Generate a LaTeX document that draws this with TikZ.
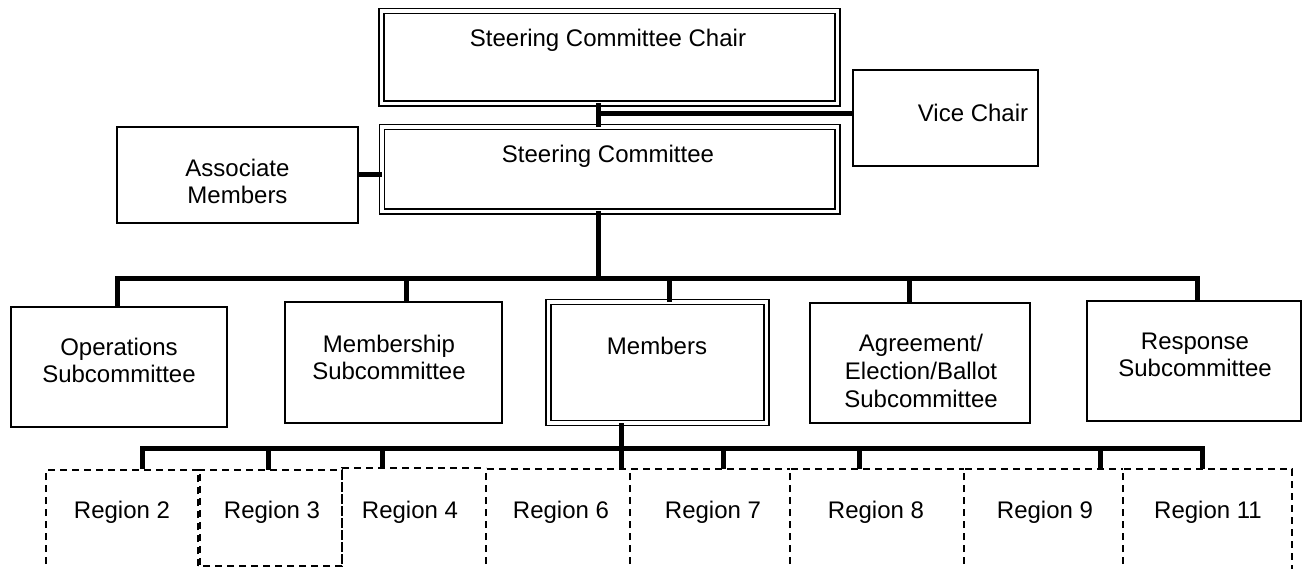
\documentclass[tikz,border=0pt]{standalone}
\usepackage{fontspec}
\setmainfont{Liberation Sans}
\begin{document}
\begin{tikzpicture}[x=1pt,y=-1pt,
  box/.style={draw=black, line width=1.3pt, fill=white, inner sep=0pt, outer sep=0pt},
  dbox/.style={draw=black, line width=1.3pt, double=white, double distance=3.7pt, inner sep=0pt, outer sep=0pt},
  rbox/.style={draw=black, line width=1.2pt, dash pattern=on 7pt off 5pt},
  conn/.style={draw=black, line width=5pt},
  txt/.style={font=\fontsize{24}{27.5}\selectfont, align=center, inner sep=0pt, anchor=base}
]
\useasboundingbox (0,0) rectangle (1302,569);
\clip (0,0) rectangle (1302,569);

% top of the chart
\node[dbox, minimum width=456pt, minimum height=92.5pt] (chair) at (609.5,57.25) {};
\node[dbox, minimum width=455.5pt, minimum height=84.5pt] (sc) at (609.75,169.25) {};
\node[box, minimum width=241pt, minimum height=96pt] (assoc) at (237.5,175) {};
\node[box, minimum width=185pt, minimum height=96pt] (vice) at (945.5,118) {};

% multi-line labels sit on the baseline of their last line
\node[txt] (tchair) at (608,47) {Steering Committee Chair};
\node[txt] (tsc) at (608,163) {Steering Committee};
\node[txt] (tassoc) at (237.5,204) {Associate\\Members};
\node[txt] (tvice) at (973,122) {Vice Chair};

% subcommittees
\node[box, minimum width=216pt, minimum height=120pt] (ops) at (119,367) {};
\node[box, minimum width=217pt, minimum height=121pt] (msub) at (393.5,362.5) {};
\node[dbox, minimum width=218pt, minimum height=121pt] (members) at (657.5,362.5) {};
\node[box, minimum width=220pt, minimum height=120pt] (agree) at (920,363) {};
\node[box, minimum width=214pt, minimum height=120pt] (resp) at (1194,361) {};

\node[txt] (tops) at (119,383) {Operations\\Subcommittee};
\node[txt] (tmsub) at (389,380) {Membership\\Subcommittee};
\node[txt] (tmembers) at (657,355) {Members};
\node[txt] (tagree) at (921,407) {Agreement/\\Election/Ballot\\Subcommittee};
\node[txt] (tresp) at (1195,377) {Response\\Subcommittee};

% regions (open at the bottom edge, except Region 3)
\draw[rbox] (46,600) -- (46,470) -- (200,470) -- (200,600);
\draw[rbox] (198,566) rectangle (342,470);
\draw[rbox] (342,600) -- (342,468) -- (486,468);
\draw[rbox] (486,600) -- (486,469) -- (630,469);
\draw[rbox] (630,600) -- (630,469) -- (790,469);
\draw[rbox] (790,600) -- (790,469) -- (964,469);
\draw[rbox] (964,600) -- (964,469) -- (1123,469);
\draw[rbox] (1123,600) -- (1123,469) -- (1292,469) -- (1292,600);
\path (123,534) node[inner sep=0pt, minimum width=154pt, minimum height=130pt] (r2) {}
      (270,518) node[inner sep=0pt, minimum width=144pt, minimum height=96pt] (r3) {}
      (414,534) node[inner sep=0pt, minimum width=144pt, minimum height=132pt] (r4) {}
      (558,534) node[inner sep=0pt, minimum width=144pt, minimum height=130pt] (r6) {}
      (710,534) node[inner sep=0pt, minimum width=160pt, minimum height=130pt] (r7) {}
      (877,534) node[inner sep=0pt, minimum width=174pt, minimum height=130pt] (r8) {}
      (1043.5,534) node[inner sep=0pt, minimum width=159pt, minimum height=130pt] (r9) {}
      (1207.5,534) node[inner sep=0pt, minimum width=169pt, minimum height=130pt] (r11) {};

\node[txt] (tr2) at (122,518) {Region 2};
\node[txt] (tr3) at (272,518) {Region 3};
\node[txt] (tr4) at (410,518) {Region 4};
\node[txt] (tr6) at (561,518) {Region 6};
\node[txt] (tr7) at (713,518) {Region 7};
\node[txt] (tr8) at (876,518) {Region 8};
\node[txt] (tr9) at (1045,518) {Region 9};
\node[txt] (tr11) at (1208,518) {Region 11};

% connectors at the top
\coordinate (cv) at (598,114);
\draw[conn] (cv |- chair.south) -- (cv |- sc.north);
\draw[conn] (cv) -- (cv -| vice.west);
\draw[conn] (assoc.east) -- (assoc.east -| sc.west);

% bus to the subcommittees
\coordinate (b1L) at (117,279);
\coordinate (b1R) at (1197,279);
\coordinate (b1s) at (598,279);
\coordinate (b1m) at (406,279);
\coordinate (b1c) at (669,279);
\coordinate (b1a) at (909,279);
\draw[conn] (b1s |- sc.south) -- (b1s);
\draw[conn] (ops.north -| b1L) -- (b1L) -- (b1R) -- (b1R |- resp.north);
\draw[conn] (b1m) -- (b1m |- msub.north);
\draw[conn] (b1c) -- (b1c |- members.north);
\draw[conn] (b1a) -- (b1a |- agree.north);

% bus to the regions
\coordinate (b2L) at (142,448);
\coordinate (b2R) at (1202,448);
\coordinate (b2m) at (621,448);
\coordinate (b23) at (268,448);
\coordinate (b24) at (382,448);
\coordinate (b27) at (723,448);
\coordinate (b28) at (859,448);
\coordinate (b29) at (1100,448);
\draw[conn] (b2m |- members.south) -- (b2m |- r6.north);
\draw[conn] (r2.north -| b2L) -- (b2L) -- (b2R) -- (b2R |- r11.north);
\draw[conn] (b23) -- (b23 |- r3.north);
\draw[conn] (b24) -- (b24 |- r4.north);
\draw[conn] (b27) -- (b27 |- r7.north);
\draw[conn] (b28) -- (b28 |- r8.north);
\draw[conn] (b29) -- (b29 |- r9.north);
\end{tikzpicture}
\end{document}
